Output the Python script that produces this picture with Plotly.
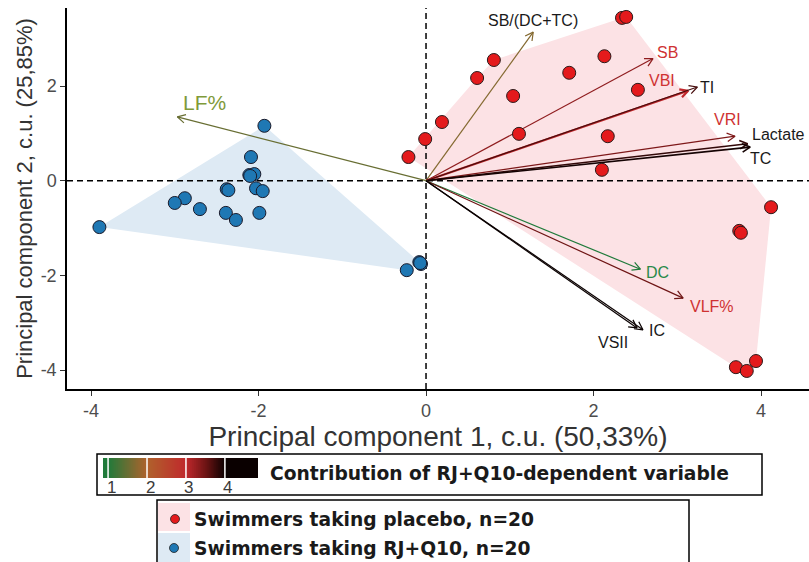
import numpy as np
import plotly.graph_objects as go

W, H = 809, 562

# ---- data -------------------------------------------------------------
# Individual scores on the first two principal components
placebo_pc1 = [2.34, 2.39, 2.13, 0.81, 0.61, 1.71, 1.04, 2.53, 0.19, 1.11,
               2.17, -0.01, -0.21, 2.10, 4.12, 3.74, 3.76, 3.94, 3.70, 3.83]
placebo_pc2 = [3.44, 3.46, 2.63, 2.55, 2.17, 2.28, 1.79, 1.92, 1.24, 0.99,
               0.94, 0.88, 0.50, 0.23, -0.56, -1.06, -1.10, -3.81, -3.94, -4.02]
rjq10_pc1 = [-1.93, -2.09, -2.11, -2.05, -2.10, -2.38, -2.36, -2.03, -1.95, -2.88,
             -3.00, -2.70, -2.39, -2.27, -1.99, -3.90, -0.23, -0.08, -0.06, -0.07]
rjq10_pc2 = [1.16, 0.50, 0.12, 0.14, 0.10, -0.18, -0.20, -0.16, -0.22, -0.37,
             -0.47, -0.60, -0.68, -0.83, -0.68, -0.98, -1.89, -1.72, -1.76, -1.74]

# Variable loadings (arrow tips) and their contribution
variables = ["SB/(DC+TC)", "SB", "VBI", "TI", "VRI", "Lactate", "TC",
             "DC", "VLF%", "IC", "VSII", "LF%"]
load_pc1 = [1.28, 2.71, 3.13, 3.24, 3.69, 3.84, 3.87, 2.56, 3.07, 2.59, 2.52, -2.97]
load_pc2 = [3.14, 2.58, 1.90, 1.98, 0.94, 0.78, 0.71, -1.87, -2.48, -3.15, -3.11, 1.35]
contribution = [1.7, 3.3, 3.0, 3.7, 3.4, 3.8, 3.95, 1.0, 3.5, 4.0, 4.0, 1.5]

x_ticks = [-4, -2, 0, 2, 4]
x_tick_labels = ["-4", "-2", "0", "2", "4"]
y_ticks = [-4, -2, 0, 2]
y_tick_labels = ["-4", "-2", "0", "2"]
scale_ticks = [1, 2, 3, 4]

# ---- styling ----------------------------------------------------------
X_RANGE = [-4.287, 4.573]
Y_RANGE = [-4.401, 3.649]
PLOT_L, PLOT_R, PLOT_T, PLOT_B = 67, 809, 8, 389   # panel box in pixels
SCALE_MIN, SCALE_MAX = 0.87, 4.85

# contribution colour ramp: green -> brown -> red -> black
ramp = [(1.0, (31, 122, 58)), (2.0, (176, 98, 44)), (3.0, (192, 40, 44)),
        (3.5, (110, 20, 20)), (4.0, (10, 0, 0))]


def ramp_color(v):
    v = min(max(v, ramp[0][0]), ramp[-1][0])
    for (a, ca), (b, cb) in zip(ramp[:-1], ramp[1:]):
        if a <= v <= b:
            t = (v - a) / (b - a)
            c = [round(ca[i] + t * (cb[i] - ca[i])) for i in range(3)]
            return "rgb({},{},{})".format(*c)
    return "rgb(0,0,0)"


def norm(v):
    return (v - SCALE_MIN) / (SCALE_MAX - SCALE_MIN)


colorscale = [[0.0, ramp_color(ramp[0][0])]]
for v, _ in ramp:
    colorscale.append([norm(v), ramp_color(v)])
colorscale.append([1.0, ramp_color(ramp[-1][0])])

# label placement (pixel offsets from arrow tip, +y downward) and colours
RED, BLACK, GREEN = "#cf3232", "#1a1a1a", "#2a8a4a"
LS = 16
label_style = {
    "SB/(DC+TC)": dict(dx=0, dy=-12, color=BLACK, size=LS),
    "SB": dict(dx=15, dy=-6, color=RED, size=LS),
    "VBI": dict(dx=-26, dy=-10, color=RED, size=LS),
    "TI": dict(dx=10, dy=1, color=BLACK, size=LS),
    "VRI": dict(dx=-8, dy=-17, color=RED, size=LS),
    "Lactate": dict(dx=31, dy=-9, color=BLACK, size=LS),
    "TC": dict(dx=10, dy=11, color=BLACK, size=LS),
    "DC": dict(dx=17, dy=3, color=GREEN, size=LS),
    "VLF%": dict(dx=29, dy=8, color=RED, size=LS),
    "IC": dict(dx=14, dy=1, color=BLACK, size=LS),
    "VSII": dict(dx=-24, dy=15, color=BLACK, size=LS),
    "LF%": dict(dx=27, dy=-14, color="#7f9a3a", size=21),
}
arrow_width = {"VBI": 2.2, "Lactate": 1.6, "TC": 1.6}

px_per_x = (PLOT_R - PLOT_L) / (X_RANGE[1] - X_RANGE[0])
px_per_y = (PLOT_B - PLOT_T) / (Y_RANGE[1] - Y_RANGE[0])


def px(x):
    return x / W


def py(y):
    return 1 - y / H


def convex_hull(xs, ys):
    pts = sorted(set(zip(xs, ys)))

    def cross(o, a, b):
        return (a[0] - o[0]) * (b[1] - o[1]) - (a[1] - o[1]) * (b[0] - o[0])

    lower, upper = [], []
    for p in pts:
        while len(lower) >= 2 and cross(lower[-2], lower[-1], p) <= 0:
            lower.pop()
        lower.append(p)
    for p in reversed(pts):
        while len(upper) >= 2 and cross(upper[-2], upper[-1], p) <= 0:
            upper.pop()
        upper.append(p)
    hull = lower[:-1] + upper[:-1]
    hull.append(hull[0])
    return [p[0] for p in hull], [p[1] for p in hull]


fig = go.Figure()

# group hulls
for xs, ys, fill in [(placebo_pc1, placebo_pc2, "#fce2e5"),
                     (rjq10_pc1, rjq10_pc2, "#deeaf4")]:
    hx, hy = convex_hull(xs, ys)
    fig.add_trace(go.Scatter(x=hx, y=hy, mode="lines", fill="toself",
                             fillcolor=fill, line=dict(width=0),
                             hoverinfo="skip"))

# dashed reference lines through the origin
fig.add_trace(go.Scatter(x=[0, 0], y=Y_RANGE, mode="lines",
                         line=dict(color="black", width=1.5, dash="6px,4px"),
                         hoverinfo="skip"))
fig.add_trace(go.Scatter(x=X_RANGE, y=[0, 0], mode="lines",
                         line=dict(color="black", width=1.5, dash="6px,4px"),
                         hoverinfo="skip"))

# loading arrows with open heads
HEAD_LEN, HEAD_ANG = 9.0, np.radians(28)
annotations = []
for name, tx, ty, c in zip(variables, load_pc1, load_pc2, contribution):
    col = ramp_color(c)
    ang = np.arctan2(ty * px_per_y, tx * px_per_x)
    hx, hy = [], []
    for s in (1, -1):
        a = ang + np.pi + s * HEAD_ANG
        hx.append(tx + HEAD_LEN * np.cos(a) / px_per_x)
        hy.append(ty + HEAD_LEN * np.sin(a) / px_per_y)
    fig.add_trace(go.Scatter(
        x=[0, tx, None, hx[0], tx, hx[1]],
        y=[0, ty, None, hy[0], ty, hy[1]],
        mode="lines", line=dict(color=col, width=arrow_width.get(name, 1.2)),
        hoverinfo="skip"))
    st = label_style[name]
    annotations.append(dict(
        x=tx, y=ty, xref="x", yref="y", text=name, showarrow=False,
        xanchor="center", yanchor="middle",
        xshift=st["dx"], yshift=-st["dy"],
        font=dict(family="Liberation Sans, Arial", size=st["size"], color=st["color"])))

# individual scores
fig.add_trace(go.Scatter(x=placebo_pc1, y=placebo_pc2, mode="markers",
                         marker=dict(size=13, color="#e41a1c",
                                     line=dict(color="#2a1a1a", width=1))))
fig.add_trace(go.Scatter(x=rjq10_pc1, y=rjq10_pc2, mode="markers",
                         marker=dict(size=13, color="#1f78b4",
                                     line=dict(color="#1a1a2a", width=1))))

# contribution colour bar (own small axes)
scale_vals = np.linspace(SCALE_MIN, SCALE_MAX, 240)
fig.add_trace(go.Heatmap(x=scale_vals, y=[0], z=[scale_vals],
                         colorscale=colorscale, zmin=SCALE_MIN, zmax=SCALE_MAX,
                         showscale=False, hoverinfo="skip",
                         xaxis="x2", yaxis="y2"))

shapes = []
for v in scale_ticks:
    shapes.append(dict(type="line", xref="x2", yref="y2 domain", x0=v, x1=v,
                       y0=0, y1=1, line=dict(color="white", width=1.5),
                       layer="above"))
    annotations.append(dict(x=v, y=py(487), xref="x2", yref="paper",
                            text=str(v), showarrow=False, xshift=3,
                            xanchor="center", yanchor="middle",
                            font=dict(family="Liberation Sans, Arial", size=17,
                                      color="#3a3a3a")))

# legend boxes
shapes.append(dict(type="rect", xref="paper", yref="paper",
                   x0=px(97), x1=px(762), y0=py(495), y1=py(454),
                   line=dict(color="black", width=1.5), fillcolor="white",
                   layer="below"))
shapes.append(dict(type="rect", xref="paper", yref="paper",
                   x0=px(157), x1=px(689), y0=py(570), y1=py(500),
                   line=dict(color="black", width=1.5), fillcolor="white",
                   layer="below"))
for (y0, y1, fill) in [(503, 531, "#fce2e5"), (533, 562, "#deeaf4")]:
    shapes.append(dict(type="rect", xref="paper", yref="paper",
                       x0=px(158), x1=px(190), y0=py(y1), y1=py(y0),
                       line=dict(width=0), fillcolor=fill, layer="below"))
for (cx, cy, fill) in [(175, 519, "#e41a1c"), (174, 548, "#1f78b4")]:
    shapes.append(dict(type="circle", xref="paper", yref="paper",
                       x0=px(cx - 4.5), x1=px(cx + 4.5),
                       y0=py(cy + 4.5), y1=py(cy - 4.5),
                       line=dict(color="#222", width=0.8), fillcolor=fill,
                       layer="above"))

LEG_FONT = dict(family="DejaVu Sans, Verdana", size=18.7, color="#1a1a1a")
for text, x, y in [("Contribution of RJ+Q10-dependent variable", 268, 473),
                   ("Swimmers taking placebo, n=20", 192, 519),
                   ("Swimmers taking RJ+Q10, n=20", 192, 548)]:
    annotations.append(dict(x=px(x), y=py(y), xref="paper", yref="paper",
                            xanchor="left", yanchor="middle", showarrow=False,
                            text="<b>" + text + "</b>", font=LEG_FONT))

axis_common = dict(showline=True, linecolor="black", linewidth=1.5,
                   ticks="outside", ticklen=5, tickwidth=1.2, tickcolor="#333",
                   showgrid=False, zeroline=False, automargin=False,
                   tickfont=dict(family="Liberation Sans, Arial", size=18,
                                 color="#4d4d4d"))

fig.update_layout(
    width=W, height=H, autosize=False,
    margin=dict(l=0, r=0, t=0, b=0),
    paper_bgcolor="white", plot_bgcolor="white",
    showlegend=False,
    xaxis=dict(range=X_RANGE, domain=[px(PLOT_L), px(PLOT_R)],
               tickvals=x_ticks, ticktext=x_tick_labels,
               title=dict(text="Principal component 1, c.u. (50,33%)",
                          font=dict(family="Liberation Sans, Arial", size=28,
                                    color="#333"), standoff=2),
               **axis_common),
    yaxis=dict(range=Y_RANGE, domain=[py(PLOT_B), py(PLOT_T)],
               tickvals=y_ticks, ticktext=y_tick_labels,
               title=dict(text="Principal component 2, c.u. (25,85%)",
                          font=dict(family="Liberation Sans, Arial", size=22,
                                    color="#333"), standoff=2),
               **axis_common),
    xaxis2=dict(domain=[px(103), px(258)], anchor="y2",
                range=[SCALE_MIN, SCALE_MAX], visible=False),
    yaxis2=dict(domain=[py(478), py(458)], anchor="x2",
                range=[-0.5, 0.5], visible=False),
    shapes=shapes,
    annotations=annotations,
)

fig.write_html("out.html")
